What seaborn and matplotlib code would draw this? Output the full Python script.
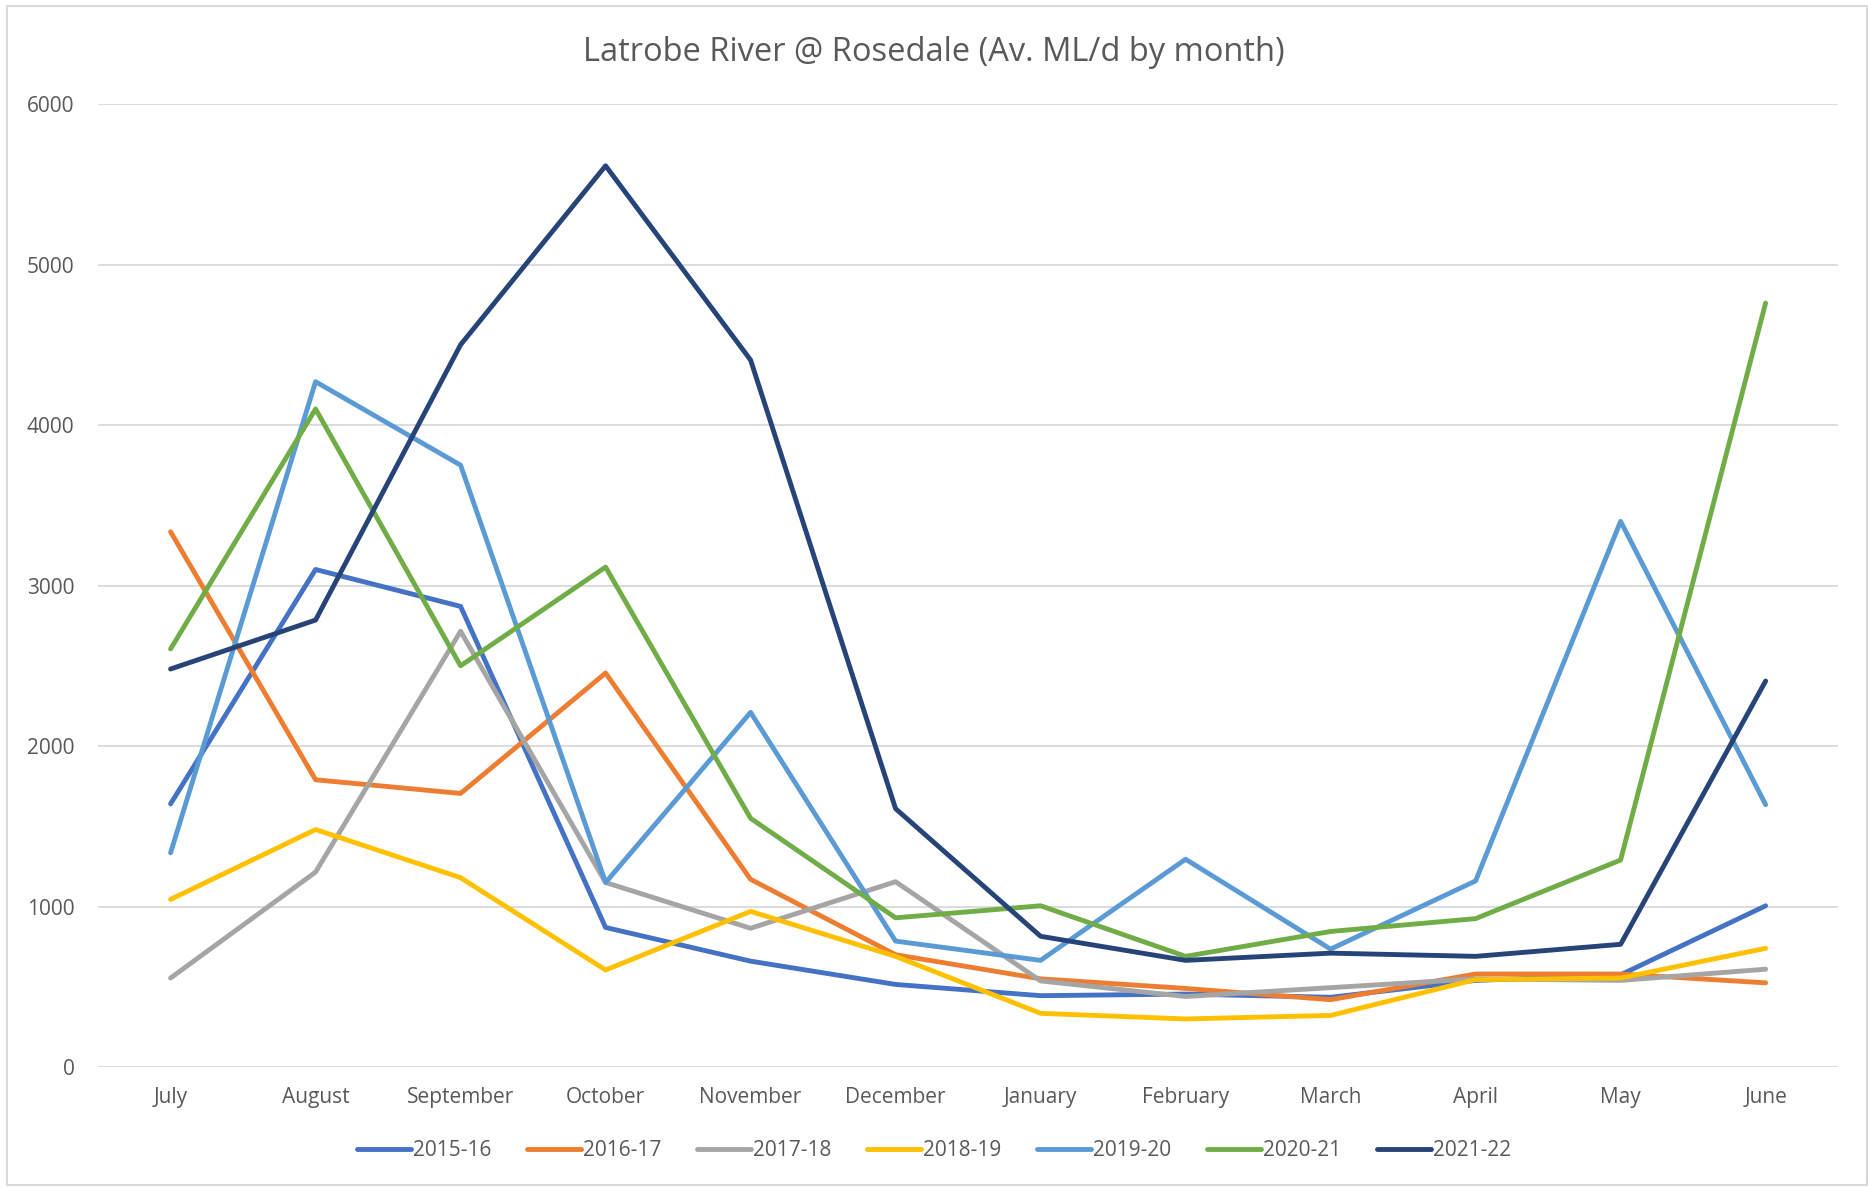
import matplotlib
matplotlib.use("Agg")
import matplotlib.pyplot as plt
import seaborn as sns
import pandas as pd

# ── DATA ─────────────────────────────────────────────
MONTHS = ["July", "August", "September", "October", "November", "December",
          "January", "February", "March", "April", "May", "June"]
SEASONS = ["2015-16", "2016-17", "2017-18", "2018-19", "2019-20", "2020-21", "2021-22"]

flow_2015_16 = [1640, 3100, 2870, 870, 660, 515, 445, 455, 435, 540, 575, 1005]
flow_2016_17 = [3335, 1790, 1705, 2455, 1170, 700, 550, 490, 420, 580, 580, 525]
flow_2017_18 = [555, 1215, 2715, 1150, 865, 1155, 537, 440, 495, 550, 540, 610]
flow_2018_19 = [1045, 1480, 1180, 605, 970, 690, 335, 300, 322, 545, 555, 740]
flow_2019_20 = [1335, 4270, 3750, 1150, 2210, 785, 665, 1295, 735, 1160, 3400, 1635]
flow_2020_21 = [2605, 4100, 2500, 3115, 1550, 930, 1005, 690, 845, 925, 1290, 4760]
flow_2021_22 = [2480, 2785, 4500, 5615, 4405, 1610, 815, 665, 710, 690, 765, 2405]

COLORS = ["#4472C4", "#ED7D31", "#A5A5A5", "#FFC000", "#5B9BD5", "#70AD47", "#264478"]

series = [flow_2015_16, flow_2016_17, flow_2017_18, flow_2018_19,
          flow_2019_20, flow_2020_21, flow_2021_22]
rows = []
for season, vals in zip(SEASONS, series):
    for m, v in zip(MONTHS, vals):
        rows.append({"Month": m, "Season": season, "Flow": v})
df = pd.DataFrame(rows)

# ── STYLE ────────────────────────────────────────────
sns.set_theme(style="white")
plt.rcParams["font.family"] = ["Open Sans", "DejaVu Sans"]
TXT = "#595959"
GRID = "#D9D9D9"

fig = plt.figure(figsize=(18.68, 11.87), dpi=100)
ax = fig.add_axes([0.0525, 0.101, 0.9315, 0.8114])

sns.lineplot(data=df, x="Month", y="Flow", hue="Season", palette=COLORS,
             sort=False, linewidth=3.5, ax=ax, legend=True)

ax.set_xlim(-0.5, len(MONTHS) - 0.5)
ax.set_ylim(0, 6000)
ax.set_yticks(range(0, 6001, 1000))
ax.yaxis.grid(True, color=GRID, linewidth=1.3)
ax.set_axisbelow(True)
for s in ax.spines.values():
    s.set_visible(False)
ax.tick_params(axis="both", length=0, labelsize=15, colors=TXT)
ax.tick_params(axis="x", pad=14)
ax.tick_params(axis="y", pad=17)
ax.set_xlabel("")
ax.set_ylabel("")

fig.text(0.5, 0.9555, "Latrobe River @ Rosedale (Av. ML/d by month)",
         ha="center", va="center", fontsize=23.5, color=TXT)

handles, labels = ax.get_legend_handles_labels()
for h in handles:
    h.set_linewidth(3.5)
    h.set_solid_capstyle("round")
ax.legend(handles, labels, loc="center", bbox_to_anchor=(0.5, 0.0305),
          bbox_transform=fig.transFigure, ncol=7, frameon=False,
          fontsize=15, labelcolor=TXT, handlelength=2.6,
          handletextpad=0.1, columnspacing=1.7)

# chart border
fig.patches.append(plt.Rectangle((0.004, 0.002), 0.9955, 0.993,
                                 transform=fig.transFigure, fill=False,
                                 edgecolor=GRID, linewidth=1.5))

fig.savefig("out.png", dpi=100, facecolor="white")
